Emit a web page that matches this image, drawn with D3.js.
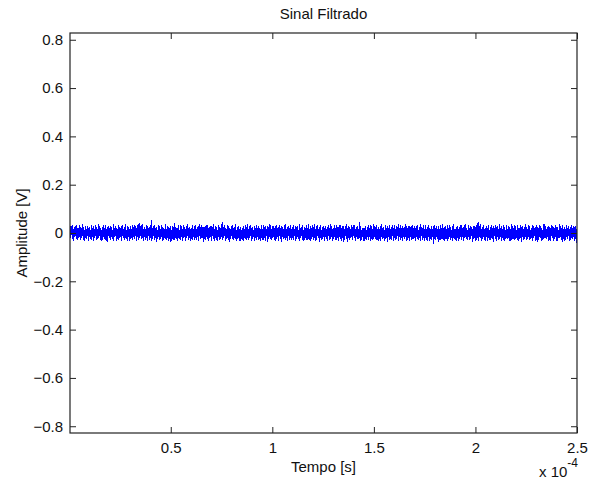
<!DOCTYPE html>
<html>
<head>
<meta charset="utf-8">
<script src="https://cdn.jsdelivr.net/npm/d3@7"></script>
<style>
  body { margin: 0; background: #fff; }
  text { font-family: "Liberation Sans", Arial, sans-serif; fill: #111; }
</style>
</head>
<body>
<div id="container"></div>
<script>
/* CONSTANTS AND GLOBALS */
const width = 592,
  height = 479,
  margin = { top: 33, bottom: 46, left: 70, right: 15 };

/* DATA */
// time axis in units of 1e-4 s
const timeStart = 0.004, timeEnd = 2.5;
const xTicks = [0.5, 1, 1.5, 2, 2.5];
const yTicks = [-0.8, -0.6, -0.4, -0.2, 0, 0.2, 0.4, 0.6, 0.8];
const yLimit = 0.828;
// filtered signal samples, in mV
const amplitudeMv = [
  18,-22,27,-9,31,-26,14,-33,22,-17,29,-12,35,-24,19,-28,11,-21,33,-15,
  25,-30,16,-19,38,-11,23,-27,13,-34,28,-20,17,-25,30,-14,21,-31,26,-18,
  12,-24,34,-29,20,-16,27,-35,15,-22,32,-13,24,-30,18,-26,36,-19,29,-10,
  22,-28,14,-32,26,-21,31,-15,19,-27,33,-23,16,-36,25,-12,28,-20,21,-29,
  30,-17,24,-25,13,-31,37,-18,22,-14,27,-33,20,-24,15,-28,34,-21,26,-16,
  19,-35,28,-13,32,-22,17,-29,24,-19,36,-26,12,-31,29,-15,23,-34,18,-23,
  27,-20,15,-30,35,-17,21,-25,31,-12,25,-32,22,-18,33,-27,41,-22,30,-14,
  23,-26,38,-21,18,-33,26,-16,14,-28,31,-20,27,-35,19,-13,24,-29,35,-19,
  52,-31,22,-24,29,-14,34,-27,20,-20,26,-36,13,-23,32,-18,28,-30,17,-25,
  33,-15,25,-34,21,-28,18,-19,37,-24,15,-29,30,-13,23,-32,19,-21,27,-37,
  14,-23,30,-18,24,-30,40,-12,26,-26,19,-33,22,-20,34,-25,13,-28,31,-17,
  28,-32,17,-22,35,-16,23,-35,18,-21,29,-14,36,-27,21,-19,25,-31,15,-24,
  20,-27,33,-15,14,-29,27,-22,32,-30,17,-18,24,-34,28,-13,38,-26,22,-20,
  31,-19,21,-36,26,-23,16,-28,29,-17,35,-25,19,-31,13,-22,30,-16,27,-33,
  24,-14,36,-26,18,-32,30,-20,23,-27,14,-35,33,-15,25,-29,20,-23,37,-18,
  44,-30,26,-21,34,-13,22,-33,15,-24,31,-19,27,-28,21,-37,16,-25,29,-12,
  35,-24,19,-29,25,-18,39,-26,13,-31,23,-16,30,-22,18,-34,26,-20,14,-27,
  21,-33,28,-15,17,-25,32,-30,24,-19,36,-28,15,-21,29,-14,34,-32,20,-23,
  26,-18,14,-34,30,-22,20,-27,35,-16,19,-30,27,-25,22,-35,17,-19,32,-29,
  15,-28,33,-20,23,-31,27,-13,18,-36,30,-23,25,-17,38,-26,21,-30,16,-21,
  29,-16,22,-27,12,-33,35,-24,19,-18,26,-31,33,-14,20,-26,28,-37,23,-15,
  18,-25,31,-21,37,-29,16,-19,24,-34,29,-12,21,-28,34,-22,15,-30,26,-20,
  32,-27,17,-14,27,-35,23,-23,30,-17,14,-26,36,-31,19,-21,25,-13,31,-28,
  13,-34,26,-22,20,-16,33,-29,22,-25,39,-18,17,-32,28,-24,21,-15,35,-30,
  25,-20,38,-31,15,-27,29,-14,34,-22,18,-36,24,-19,31,-29,14,-25,23,-17,
  30,-35,20,-18,27,-24,16,-32,25,-13,33,-27,19,-23,37,-16,29,-34,18,-26,
  22,-15,34,-30,19,-28,31,-21,14,-33,26,-18,35,-25,20,-31,17,-20,30,-36,
  16,-29,24,-13,36,-23,21,-37,28,-19,23,-30,15,-22,32,-17,26,-28,33,-14,
  34,-21,18,-35,25,-15,30,-26,17,-24,45,-20,28,-33,14,-27,22,-18,19,-31,
  20,-32,29,-24,13,-30,26,-16,35,-28,21,-14,31,-35,27,-22,18,-29,36,-19,
  27,-13,23,-28,33,-20,17,-34,24,-23,15,-31,29,-17,36,-26,20,-21,25,-33,
  14,-26,35,-19,22,-36,30,-15,19,-29,32,-24,16,-27,23,-14,34,-32,21,-22,
  31,-30,18,-23,28,-14,25,-31,37,-18,20,-28,33,-21,17,-35,27,-16,14,-25,
  24,-17,36,-33,16,-27,21,-20,29,-34,26,-15,18,-30,35,-23,13,-26,30,-21,
  19,-34,27,-16,32,-25,14,-29,23,-21,38,-32,25,-13,22,-28,31,-19,17,-35,
  33,-22,15,-27,26,-31,34,-18,20,-35,17,-24,30,-27,16,-17,28,-47,35,-14,
  21,-28,30,-14,18,-23,27,-36,15,-19,33,-29,22,-25,36,-15,19,-31,24,-26,
  28,-19,16,-32,35,-26,22,-13,31,-30,24,-21,14,-34,29,-20,37,-24,17,-29,
  15,-31,24,-20,29,-35,18,-25,26,-15,35,-27,31,-18,20,-33,23,-22,32,-16,
  36,-24,21,-29,14,-17,32,-30,19,-26,27,-13,23,-36,18,-25,30,-19,26,-32,
  17,-27,33,-22,44,-33,28,-16,36,-21,16,-31,26,-24,34,-18,15,-28,21,-34,
  30,-15,20,-35,31,-20,14,-27,24,-30,33,-19,19,-26,27,-37,22,-14,35,-23,
  23,-33,28,-18,17,-29,36,-24,21,-16,29,-34,15,-22,31,-27,25,-31,13,-20,
  34,-20,16,-26,30,-13,24,-33,18,-28,37,-23,27,-17,20,-30,33,-25,28,-18,
  14,-29,35,-31,22,-24,19,-19,32,-36,25,-15,30,-29,16,-23,26,-16,36,-27,
  26,-23,18,-17,34,-30,29,-26,13,-21,22,-32,35,-20,28,-14,19,-34,23,-30,
  32,-36,24,-28,20,-15,31,-22,27,-33,17,-27,14,-24,37,-19,29,-21,18,-25,
  19,-18,30,-34,26,-27,15,-31,33,-14,28,-20,23,-35,21,-26,32,-17,25,-31,
  25,-31,13,-21,36,-19,27,-16,22,-29,31,-37,18,-23,26,-31,16,-28,34,-15,
  21,-26,29,-14,17,-33,23,-28,35,-22,19,-25,30,-16,24,-32,27,-20,15,-40
];

const dt = (timeEnd - timeStart) / (amplitudeMv.length - 1);
const data = amplitudeMv.map((v, i) => ({ t: timeStart + i * dt, v: v / 1000 }));

/* SCALES */
const xScale = d3.scaleLinear()
  .domain([timeStart, timeEnd])
  .range([margin.left, width - margin.right]);

const yScale = d3.scaleLinear()
  .domain([-yLimit, yLimit])
  .range([height - margin.bottom, margin.top]);

/* HTML ELEMENTS */
const svg = d3.select("#container")
  .append("svg")
  .attr("width", width)
  .attr("height", height);

// signal
const line = d3.line()
  .x(d => xScale(d.t))
  .y(d => yScale(d.v));

svg.append("path")
  .datum(data)
  .attr("fill", "none")
  .attr("stroke", "#0000ff")
  .attr("stroke-width", 1)
  .attr("shape-rendering", "crispEdges")
  .attr("d", line);

// axes (ticks pointing inwards, mirrored on top / right)
const fmt = d => d3.format("")(+d.toFixed(1));
const axisStyle = g => {
  g.select(".domain").remove();
  g.selectAll(".tick line").attr("stroke", "#222");
  g.selectAll(".tick text").attr("font-size", 15).attr("fill", "#111");
};

svg.append("g")
  .attr("transform", `translate(0,${height - margin.bottom})`)
  .call(d3.axisBottom(xScale).tickValues(xTicks).tickFormat(fmt).tickSizeInner(-6).tickPadding(9))
  .call(axisStyle);

svg.append("g")
  .attr("transform", `translate(0,${margin.top})`)
  .call(d3.axisTop(xScale).tickValues(xTicks).tickFormat("").tickSizeInner(-6))
  .call(axisStyle);

svg.append("g")
  .attr("transform", `translate(${margin.left},0)`)
  .call(d3.axisLeft(yScale).tickValues(yTicks).tickFormat(fmt).tickSizeInner(-6).tickPadding(7))
  .call(axisStyle);

svg.append("g")
  .attr("transform", `translate(${width - margin.right},0)`)
  .call(d3.axisRight(yScale).tickValues(yTicks).tickFormat("").tickSizeInner(-6))
  .call(axisStyle);

// box
svg.append("rect")
  .attr("x", margin.left)
  .attr("y", margin.top)
  .attr("width", width - margin.left - margin.right)
  .attr("height", height - margin.top - margin.bottom)
  .attr("fill", "none")
  .attr("stroke", "#222")
  .attr("stroke-width", 1.2);

// labels
svg.append("text")
  .attr("x", (margin.left + width - margin.right) / 2)
  .attr("y", 19)
  .attr("text-anchor", "middle")
  .attr("font-size", 15)
  .text("Sinal Filtrado");

svg.append("text")
  .attr("x", (margin.left + width - margin.right) / 2)
  .attr("y", 472)
  .attr("text-anchor", "middle")
  .attr("font-size", 15)
  .text("Tempo [s]");

svg.append("text")
  .attr("transform", `translate(27,${(margin.top + height - margin.bottom) / 2}) rotate(-90)`)
  .attr("text-anchor", "middle")
  .attr("font-size", 15)
  .text("Amplitude [V]");

const mult = svg.append("text")
  .attr("x", 539)
  .attr("y", 477)
  .attr("font-size", 15)
  .text("x 10");
mult.append("tspan")
  .attr("dy", -10)
  .attr("font-size", 12)
  .text("-4");
</script>
</body>
</html>
